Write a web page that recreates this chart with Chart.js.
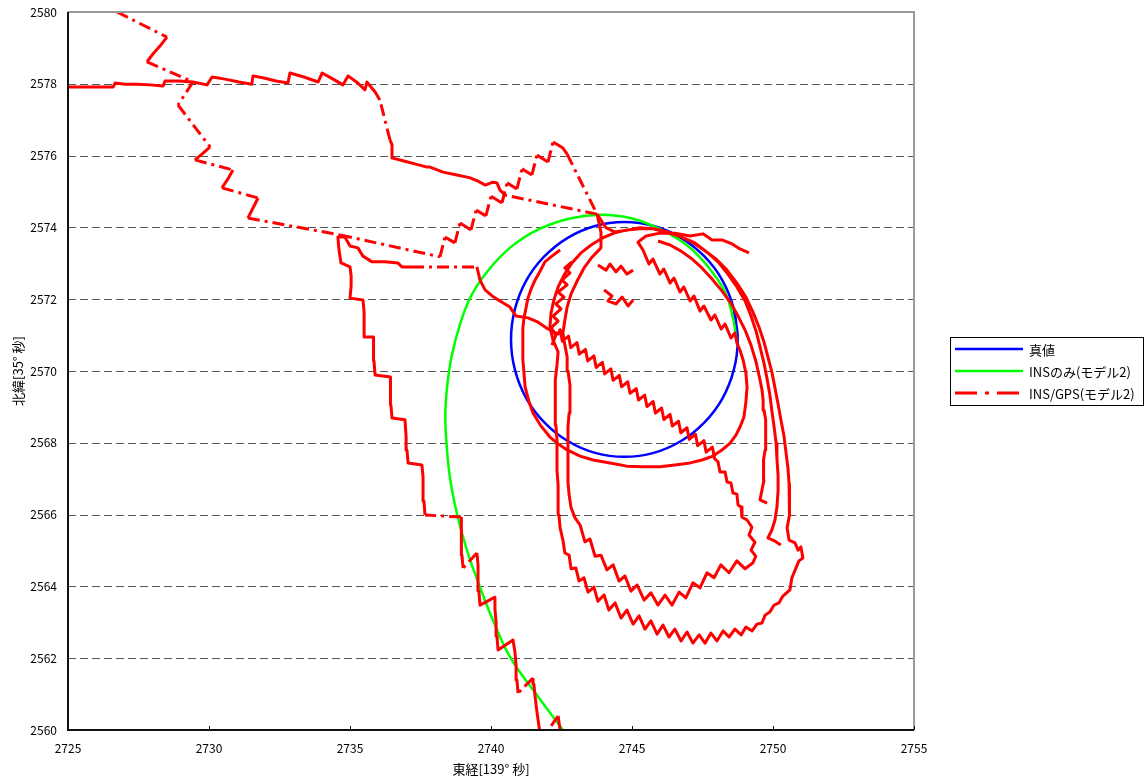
<!DOCTYPE html>
<html><head><meta charset="utf-8">
<script src="https://cdn.jsdelivr.net/npm/chart.js@4/dist/chart.umd.min.js"></script>
<style>html,body{margin:0;padding:0;background:#fff;}canvas{display:block;}</style>
</head><body>
<canvas id="c" width="1145" height="783"></canvas>
<script>
// ---------- tick labels / names ----------
const xTicks = [2725, 2730, 2735, 2740, 2745, 2750, 2755];
const yTicks = [2560, 2562, 2564, 2566, 2568, 2570, 2572, 2574, 2576, 2578, 2580];
const seriesNames = ['真値', 'INSのみ(モデル2)', 'INS/GPS(モデル2)'];
const xTitle = '東経[139° 秒]';
const yTitle = '北緯[35° 秒]';

// ---------- 真値 (true trajectory) ----------
const trueValue = [[2748.75,2570.88],[2748.61,2571.73],[2748.21,2572.52],[2747.57,2573.19],[2746.74,2573.71],[2745.77,2574.04],[2744.73,2574.15],[2743.69,2574.04],[2742.72,2573.71],[2741.89,2573.19],[2741.25,2572.52],[2740.85,2571.73],[2740.71,2570.88],[2740.85,2570.03],[2741.25,2569.24],[2741.89,2568.57],[2742.72,2568.05],[2743.69,2567.72],[2744.73,2567.61],[2745.77,2567.72],[2746.74,2568.05],[2747.57,2568.57],[2748.21,2569.24],[2748.61,2570.03],[2748.75,2570.88],[2748.61,2571.73]];

// ---------- INSのみ ----------
const insOnly = [[2742.55,2560.0],[2741.6,2561.0],[2740.7,2562.0],[2740.1,2563.0],[2739.6,2564.0],[2739.15,2565.0],[2738.8,2566.0],[2738.55,2567.0],[2738.42,2568.0],[2738.38,2568.8],[2738.45,2569.6],[2738.6,2570.4],[2738.9,2571.3],[2739.3,2572.1],[2739.9,2572.8],[2740.7,2573.45],[2741.7,2573.95],[2742.8,2574.25],[2743.9,2574.35],[2745.0,2574.25],[2746.0,2573.95],[2746.95,2573.5],[2747.7,2572.9],[2748.3,2572.2],[2748.6,2571.4],[2748.7,2570.9]];

// ---------- INS/GPS (pieces of one trace) ----------
const insGpsA = [[2742.45,2559.58],[2742.45,2560.00],[2742.38,2560.39],[2741.77,2559.72],[2741.70,2560.11],[2741.63,2560.50],[2741.56,2560.95],[2741.52,2561.28],[2741.49,2561.45],[2740.96,2561.03],[2740.92,2561.39],[2740.89,2561.78],[2740.85,2562.17],[2740.78,2562.51],[2740.25,2562.23],[2740.21,2562.62],[2740.18,2563.01],[2740.14,2563.37],[2740.14,2563.70],[2739.61,2563.48],[2739.57,2563.87],[2739.54,2564.23],[2739.54,2564.60],[2739.50,2564.93],[2739.01,2564.51],[2738.97,2564.87],[2738.97,2565.24],[2738.94,2565.60],[2738.94,2565.93],[2737.66,2565.99],[2737.62,2566.38],[2737.59,2566.74],[2737.59,2567.05],[2737.55,2567.38],[2737.06,2567.44],[2737.02,2567.80],[2736.99,2568.16],[2736.95,2568.64],[2736.49,2568.69],[2736.45,2569.05],[2736.45,2569.44],[2736.42,2569.83],[2735.89,2569.89],[2735.85,2570.28],[2735.85,2570.61],[2735.82,2570.95],[2735.53,2570.95],[2735.50,2571.31],[2735.50,2571.64],[2735.46,2571.98],[2735.00,2572.03],[2735.04,2572.37],[2735.04,2572.65],[2735.00,2572.90],[2734.68,2573.01],[2734.61,2573.37],[2734.57,2573.73]];
const insGpsB = [[2734.82,2573.73],[2735.00,2573.48],[2735.28,2573.43],[2735.46,2573.20],[2735.78,2573.04],[2736.24,2573.04],[2736.70,2573.01],[2736.84,2572.90],[2737.20,2572.90],[2739.50,2572.90],[2739.61,2572.53],[2739.79,2572.26],[2740.04,2572.09],[2740.32,2571.95],[2740.67,2571.78],[2740.89,2571.53],[2741.31,2571.48],[2741.67,2571.36],[2742.02,2571.17],[2742.38,2571.03]];
const insGpsC = [[2742.45,2571.15],[2742.53,2570.83],[2742.75,2570.97],[2742.83,2570.65],[2743.05,2570.79],[2743.13,2570.47],[2743.35,2570.60],[2743.43,2570.28],[2743.65,2570.42],[2743.73,2570.10],[2743.95,2570.24],[2744.03,2569.92],[2744.25,2570.06],[2744.33,2569.74],[2744.55,2569.88],[2744.63,2569.56],[2744.85,2569.70],[2744.93,2569.38],[2745.15,2569.51],[2745.23,2569.19],[2745.45,2569.33],[2745.53,2569.01],[2745.75,2569.15],[2745.83,2568.83],[2746.05,2568.97],[2746.13,2568.65],[2746.35,2568.79],[2746.43,2568.47],[2746.65,2568.60],[2746.73,2568.28],[2746.95,2568.42],[2747.03,2568.10],[2747.25,2568.24],[2747.33,2567.92],[2747.55,2568.06],[2747.63,2567.74],[2747.85,2567.88],[2747.93,2567.56],[2748.05,2567.47],[2748.12,2567.19],[2748.30,2567.19],[2748.37,2566.91],[2748.51,2566.88],[2748.58,2566.60],[2748.72,2566.57],[2748.76,2566.27],[2748.87,2566.21],[2748.90,2565.93],[2749.08,2565.85]];
const insGpsD = [[2749.25,2565.65],[2749.15,2565.43],[2749.36,2565.23],[2749.22,2565.01],[2749.39,2564.84],[2749.29,2564.66],[2749.01,2564.49],[2748.72,2564.71],[2748.44,2564.38],[2748.15,2564.60],[2747.91,2564.24],[2747.66,2564.38],[2747.41,2563.96],[2747.16,2564.10],[2746.91,2563.68],[2746.67,2563.84],[2746.42,2563.48],[2746.17,2563.76],[2745.92,2563.48],[2745.67,2563.82],[2745.43,2563.62],[2745.18,2564.04],[2744.96,2563.87],[2744.75,2564.29],[2744.54,2564.15],[2744.33,2564.60],[2744.11,2564.46],[2743.90,2564.87],[2743.69,2564.84],[2743.51,2565.32],[2743.33,2565.24],[2743.16,2565.71],[2742.98,2565.91],[2742.84,2566.19],[2742.77,2566.55],[2742.73,2566.90],[2742.73,2567.30],[2742.73,2567.66],[2742.73,2568.05],[2742.73,2568.44],[2742.77,2568.83],[2742.80,2569.22],[2742.80,2569.61],[2742.73,2570.00],[2742.70,2570.39],[2742.62,2570.72],[2742.55,2571.06],[2742.62,2571.42],[2742.70,2571.78],[2742.84,2572.15],[2743.05,2572.50],[2743.30,2572.87],[2743.58,2573.17],[2743.90,2573.43],[2743.90,2573.87],[2743.76,2574.37]];
const insGpsE = [[2740.50,2574.90],[2740.32,2575.04],[2740.21,2575.24],[2740.07,2575.26],[2739.79,2575.18],[2739.54,2575.29],[2739.26,2575.38],[2739.15,2575.40],[2738.79,2575.46],[2738.30,2575.54],[2737.84,2575.68],[2737.73,2575.68],[2737.30,2575.77],[2736.91,2575.85],[2736.52,2575.93],[2736.49,2576.30],[2736.42,2576.43],[2736.06,2577.55],[2735.89,2577.77],[2735.60,2578.05],[2735.53,2577.83],[2735.28,2578.02],[2734.93,2578.22],[2734.75,2577.97],[2734.40,2578.13],[2734.01,2578.30],[2733.87,2578.05],[2733.37,2578.19],[2732.87,2578.30],[2732.80,2578.02],[2732.38,2578.08],[2731.95,2578.16],[2731.56,2578.22],[2731.52,2577.99],[2731.06,2578.05],[2730.57,2578.13],[2730.11,2578.19],[2729.93,2577.97],[2729.43,2578.05],[2728.94,2578.08],[2728.44,2578.08],[2728.37,2577.94],[2727.91,2577.97],[2727.45,2577.99],[2727.02,2577.99],[2726.67,2578.02],[2726.60,2577.91],[2726.13,2577.91],[2725.60,2577.91],[2725.00,2577.91],[2724.01,2577.91],[2724.00,2581.00],[2725.32,2580.56]];
const insGpsF = [[2726.74,2580.00],[2728.51,2579.30],[2728.26,2579.05],[2728.01,2578.83],[2727.80,2578.61],[2729.43,2578.05],[2728.90,2577.41],[2730.04,2576.24],[2729.75,2576.04],[2729.50,2575.88],[2730.85,2575.60],[2730.67,2575.35],[2730.46,2575.10],[2731.74,2574.82],[2731.56,2574.54],[2731.38,2574.26],[2734.65,2573.79]];
const insGpsG = [[2738.19,2573.18],[2738.37,2573.73],[2738.72,2573.57],[2738.90,2574.12],[2739.29,2573.93],[2739.47,2574.48],[2739.82,2574.32],[2740.00,2574.87],[2740.39,2574.68],[2740.57,2575.24],[2740.92,2575.07],[2741.10,2575.63],[2741.45,2575.46],[2741.63,2576.02],[2742.02,2575.82],[2742.20,2576.38],[2742.55,2576.21],[2742.70,2576.04],[2743.76,2574.37]];
const insGpsH = [[2744.08,2573.99],[2744.40,2573.87],[2744.86,2573.93],[2745.28,2573.99],[2745.74,2573.96],[2746.21,2573.87],[2746.67,2573.76],[2747.13,2573.59],[2747.55,2573.37],[2747.98,2573.12],[2748.37,2572.81],[2748.72,2572.45],[2749.04,2572.06],[2749.29,2571.64],[2749.50,2571.23],[2749.68,2570.81],[2749.82,2570.39],[2749.96,2569.97],[2750.07,2569.53],[2750.18,2569.08],[2750.28,2568.64],[2750.39,2568.19],[2750.46,2567.74],[2750.53,2567.30],[2750.57,2566.85],[2750.60,2566.41],[2750.57,2565.99],[2750.50,2565.63],[2750.57,2565.29],[2750.78,2565.21],[2750.89,2565.01],[2750.99,2565.10],[2751.06,2564.79],[2750.92,2564.71],
[2750.67,2564.24],[2750.60,2563.90],[2750.35,2563.73],[2750.21,2563.54],[2750.04,2563.48],[2749.89,2563.29],[2749.72,2563.20],[2749.61,2562.98],[2749.43,2562.95],[2749.26,2562.76],[2749.04,2562.87],[2748.87,2562.65],[2748.65,2562.81],[2748.44,2562.59],[2748.23,2562.76],[2748.01,2562.48],[2747.80,2562.70],[2747.59,2562.42],[2747.38,2562.65],[2747.16,2562.42],[2746.95,2562.73],[2746.74,2562.48],[2746.52,2562.81],[2746.31,2562.59],[2746.10,2562.92],[2745.89,2562.67],[2745.67,2563.04],[2745.46,2562.81],[2745.25,2563.18],[2745.04,2562.95],[2744.82,2563.34],[2744.61,2563.12],[2744.40,2563.54],[2744.18,2563.34],[2744.01,2563.76],[2743.79,2563.59],[2743.65,2563.98],[2743.44,2563.84],[2743.30,2564.24],[2743.12,2564.15],[2743.01,2564.51],[2742.84,2564.49],[2742.77,2564.87],[2742.62,2564.93],[2742.55,2565.29],[2742.45,2565.63],[2742.41,2565.99],[2742.38,2566.41],[2742.38,2566.82],[2742.34,2567.24],[2742.34,2567.66],[2742.34,2568.08],[2742.30,2568.50],[2742.30,2568.91],[2742.27,2569.33],[2742.27,2569.75],[2742.34,2570.17],[2742.38,2570.53],[2742.20,2570.86],[2742.09,2571.23],[2742.13,2571.62],[2742.23,2571.98],[2742.38,2572.34],[2742.59,2572.67],[2742.87,2573.01],[2743.19,2573.29],[2743.55,2573.51],[2743.94,2573.70],[2744.36,2573.84],[2744.82,2573.93],[2745.28,2573.96],[2745.78,2573.96],[2746.28,2573.87],
[2746.77,2573.73],[2747.23,2573.57],[2747.66,2573.31],[2748.05,2573.04],[2748.40,2572.70],[2748.72,2572.34],[2749.01,2571.95],[2749.22,2571.53],[2749.40,2571.11],[2749.54,2570.67],[2749.68,2570.22],[2749.79,2569.78],[2749.89,2569.33],[2749.96,2568.89],[2750.04,2568.44],[2750.11,2567.99],[2750.14,2567.55],[2750.18,2567.10],[2750.18,2566.66],[2750.14,2566.21],[2750.07,2565.85],[2749.96,2565.57],[2749.82,2565.35],[2750.07,2565.26],[2750.28,2565.15]];
const insGpsK = [[2749.79,2566.32],[2749.54,2566.41],[2749.61,2566.69],[2749.68,2566.96],[2749.68,2567.24],[2749.65,2567.52],[2749.72,2567.80],[2749.75,2568.08],[2749.75,2568.36],[2749.72,2568.64],[2749.68,2568.91],[2749.65,2569.19],[2749.61,2569.47],[2749.54,2569.75],[2749.40,2570.25],[2749.22,2570.72],[2749.01,2571.14],[2748.76,2571.53],[2748.48,2571.92],[2748.16,2572.26],[2747.84,2572.56],[2747.48,2572.87],[2747.13,2573.12],[2746.74,2573.34],[2746.35,2573.51],[2745.92,2573.62]];
const insGpsI = [[2742.45,2573.37],[2742.16,2573.20],[2741.91,2573.04],[2741.74,2572.78],[2741.56,2572.53],[2741.42,2572.28],[2741.31,2572.03],[2741.24,2571.75],[2741.17,2571.48],[2741.13,2571.20],[2741.13,2570.92],[2741.13,2570.61],[2741.13,2570.31],[2741.17,2569.94],[2741.21,2569.55],[2741.35,2569.14],[2741.49,2568.83],[2741.77,2568.47],[2742.09,2568.16],[2742.38,2567.97],[2742.70,2567.80],[2743.16,2567.63],[2743.62,2567.52],[2744.22,2567.44],[2744.82,2567.35],[2745.39,2567.33],[2745.99,2567.33],[2746.52,2567.38],[2747.06,2567.44],[2747.48,2567.52],[2747.87,2567.63],[2748.19,2567.80],[2748.48,2567.99],[2748.69,2568.22],[2748.83,2568.44],[2748.97,2568.72],[2749.04,2569.14],[2749.08,2569.55],[2749.04,2569.94],[2748.94,2570.31],[2748.83,2570.58],[2748.72,2570.78],[2748.65,2571.06],[2748.51,2570.92],[2748.30,2571.31],[2748.16,2571.17],[2747.94,2571.56],[2747.80,2571.42],[2747.55,2571.81],[2747.41,2571.67],[2747.20,2572.09],[2747.06,2571.95],[2746.84,2572.34],[2746.70,2572.20],[2746.49,2572.59],[2746.35,2572.45],[2746.13,2572.84],[2745.99,2572.70],[2745.74,2573.12],[2745.60,2572.98],[2745.39,2573.37],[2745.21,2573.59],[2745.50,2573.76],[2745.99,2573.84],[2746.52,2573.84],[2747.06,2573.76],[2747.52,2573.82],[2747.84,2573.65],[2748.19,2573.65],[2748.55,2573.54],[2748.83,2573.40],[2749.15,2573.29]];
const insGpsJ1 = [[2742.87,2573.04],[2742.62,2572.87],[2742.80,2572.73],[2742.52,2572.53],[2742.70,2572.40],[2742.38,2572.20],[2742.59,2572.06],[2742.30,2571.87],[2742.48,2571.73],[2742.20,2571.53],[2742.38,2571.39],[2742.13,2571.20],[2742.30,2571.00],[2742.16,2570.72]];
const insGpsJ2 = [[2743.79,2572.95],[2744.08,2572.81],[2744.22,2572.98],[2744.43,2572.76],[2744.61,2572.92],[2744.82,2572.70],[2745.04,2572.81]];
const insGpsJ3 = [[2744.01,2572.26],[2744.29,2572.09],[2744.15,2571.95],[2744.43,2571.87],[2744.65,2572.06],[2744.86,2571.81],[2745.04,2571.98]];

// continuous runs of the INS/GPS trace (a gap separates runs)
const insGpsRuns = [
  [insGpsA, insGpsB, insGpsC, insGpsD, insGpsE, insGpsF, insGpsG, insGpsH],
  [insGpsK], [insGpsI], [insGpsJ1], [insGpsJ2], [insGpsJ3]
];

const toXY = arr => arr.map(([x, y]) => ({x, y}));
const insGpsData = [];
insGpsRuns.forEach((run, r) => {
  if (r > 0) insGpsData.push({x: insGpsData[insGpsData.length - 1].x, y: null});
  run.forEach(part => part.forEach(([x, y]) => insGpsData.push({x, y})));
});

const FONT = '"Noto Sans CJK JP", "Noto Sans", sans-serif';
const jumpPx = 19;
const segLen = c => Math.hypot(c.p1.x - c.p0.x, c.p1.y - c.p0.y);

const frameGrid = {
  id: 'frameGrid',
  beforeDatasetsDraw(chart) {
    const {ctx, chartArea: a, scales: {y}} = chart;
    ctx.save();
    ctx.strokeStyle = '#555';
    ctx.lineWidth = 1;
    ctx.setLineDash([8, 4]);
    yTicks.forEach(v => {
      if (v === y.min || v === y.max) return;
      const py = Math.round(y.getPixelForValue(v)) + 0.5;
      ctx.beginPath(); ctx.moveTo(a.left, py); ctx.lineTo(a.right, py); ctx.stroke();
    });
    ctx.restore();
  },
  afterDatasetsDraw(chart) {
    const {ctx, chartArea: a, scales: {x}} = chart;
    ctx.save();
    ctx.setLineDash([]);
    ctx.lineWidth = 2;
    ctx.strokeStyle = '#9a9a9a';
    ctx.beginPath(); ctx.moveTo(a.left, a.top); ctx.lineTo(a.right, a.top); ctx.lineTo(a.right, a.bottom); ctx.stroke();
    ctx.strokeStyle = '#111';
    ctx.beginPath(); ctx.moveTo(a.left, a.top); ctx.lineTo(a.left, a.bottom); ctx.lineTo(a.right, a.bottom); ctx.stroke();
    ctx.lineWidth = 1;
    xTicks.forEach(v => {
      const px = Math.round(x.getPixelForValue(v)) + 0.5;
      ctx.beginPath(); ctx.moveTo(px, a.bottom); ctx.lineTo(px, a.bottom - 4); ctx.stroke();
    });
    ctx.restore();
  }
};

const legendBox = {
  id: 'legendBox',
  afterDraw(chart) {
    const ctx = chart.ctx;
    ctx.save();
    ctx.fillStyle = '#fff';
    ctx.fillRect(950.5, 337.5, 193, 68);
    ctx.strokeStyle = '#000';
    ctx.lineWidth = 1;
    ctx.strokeRect(950.5, 337.5, 193, 68);
    chart.data.datasets.forEach((ds, i) => {
      const cy = 349 + i * 22;
      ctx.strokeStyle = ds.borderColor;
      ctx.lineWidth = ds.borderWidth;
      ctx.lineCap = 'butt';
      ctx.setLineDash(i === 2 ? [22, 8, 4, 8] : []);
      ctx.beginPath(); ctx.moveTo(955, cy); ctx.lineTo(1023, cy); ctx.stroke();
      ctx.setLineDash([]);
      ctx.fillStyle = '#000';
      ctx.font = '13px ' + FONT;
      ctx.textBaseline = 'middle';
      ctx.textAlign = 'left';
      ctx.fillText(ds.label, 1029, cy + 1);
    });
    ctx.restore();
  }
};

new Chart(document.getElementById('c'), {
  type: 'line',
  data: {
    datasets: [
      {label: seriesNames[0], data: toXY(trueValue), borderColor: '#0000ff', borderWidth: 2.5, tension: 0.4, order: 3},
      {label: seriesNames[1], data: toXY(insOnly), borderColor: '#00ff00', borderWidth: 2.5, tension: 0.4, order: 2},
      {label: seriesNames[2], data: insGpsData, borderColor: '#ff0000', borderWidth: 3, tension: 0, order: 1,
        borderJoinStyle: 'round', borderCapStyle: 'butt', spanGaps: false,
        segment: {
          borderDash: c => segLen(c) > jumpPx ? [12, 5, 3, 5] : [],
          borderDashOffset: c => segLen(c) > jumpPx ? (c.p0DataIndex % 2 ? 0.01 : 0) : 0
        }}
    ]
  },
  options: {
    responsive: false,
    animation: false,
    events: [],
    layout: {padding: {top: 12, right: 231, left: 0, bottom: 0}},
    elements: {point: {radius: 0, hoverRadius: 0}, line: {fill: false}},
    plugins: {legend: {display: false}, tooltip: {enabled: false}},
    scales: {
      x: {
        type: 'linear', min: 2725, max: 2755,
        afterBuildTicks: s => { s.ticks = xTicks.map(v => ({value: v})); },
        afterFit: s => { s.height = 53; s.paddingLeft = 0; s.paddingRight = 0; },
        grid: {display: false, drawTicks: false},
        border: {display: false},
        ticks: {color: '#000', padding: 11, maxRotation: 0, font: {family: FONT, size: 12}, callback: v => String(v)},
        title: {display: true, text: xTitle, color: '#000', font: {family: FONT, size: 13}, padding: {top: 0, bottom: 6}}
      },
      y: {
        type: 'linear', min: 2560, max: 2580,
        afterBuildTicks: s => { s.ticks = yTicks.map(v => ({value: v})); },
        afterFit: s => { s.width = 68; s.paddingTop = 0; s.paddingBottom = 0; },
        grid: {display: false, drawTicks: false},
        border: {display: false},
        ticks: {color: '#000', padding: 11, font: {family: FONT, size: 12}, callback: v => String(v)},
        title: {display: true, text: yTitle, color: '#000', font: {family: FONT, size: 13}, padding: {top: 10, bottom: 0}}
      }
    }
  },
  plugins: [frameGrid, legendBox]
});
</script>
</body></html>
